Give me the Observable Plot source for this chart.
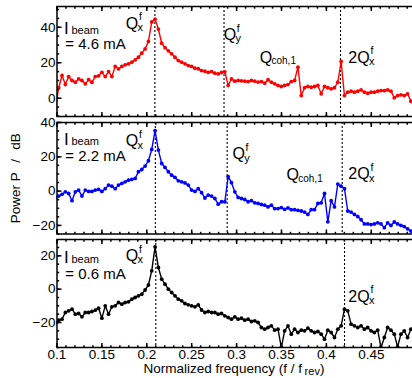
<!DOCTYPE html>
<html><head><meta charset="utf-8">
<script src="https://cdn.jsdelivr.net/npm/d3@7"></script>
<script src="https://cdn.jsdelivr.net/npm/@observablehq/plot@0.6"></script>
<style>
html,body{margin:0;padding:0;background:#fff;overflow:hidden;}
#chart{position:relative;width:412px;height:378px;overflow:hidden;font-family:"Liberation Sans",Arial,sans-serif;color:#000;}
#chart svg{position:absolute;left:0;}
#xlabel{position:absolute;left:56px;width:356px;top:361.5px;text-align:center;font-size:13.5px;line-height:14px;white-space:nowrap;}
#xlabel span{font-size:11px;position:relative;top:2.5px;}
</style></head><body><div id="chart"></div><script>
// Normalized frequency grid (f / f_rev)
const freq = [0.0982,0.1019,0.1056,0.1093,0.1130,0.1167,0.1204,0.1241,0.1278,0.1315,0.1352,0.1389,0.1426,0.1463,0.1500,0.1537,0.1574,0.1611,0.1648,0.1685,0.1722,0.1759,0.1796,0.1833,0.1870,0.1907,0.1944,0.1981,0.2018,0.2055,0.2092,0.2129,0.2166,0.2203,0.2240,0.2277,0.2314,0.2351,0.2388,0.2425,0.2462,0.2499,0.2536,0.2573,0.2610,0.2647,0.2684,0.2721,0.2758,0.2795,0.2832,0.2869,0.2906,0.2943,0.2980,0.3017,0.3054,0.3091,0.3128,0.3165,0.3202,0.3239,0.3276,0.3313,0.3350,0.3387,0.3424,0.3461,0.3498,0.3535,0.3572,0.3609,0.3646,0.3683,0.3720,0.3757,0.3794,0.3831,0.3868,0.3905,0.3942,0.3979,0.4016,0.4053,0.4090,0.4127,0.4164,0.4201,0.4238,0.4275,0.4312,0.4349,0.4386,0.4423,0.4460,0.4497,0.4534,0.4571,0.4608,0.4645,0.4682,0.4719,0.4756,0.4793,0.4830,0.4867,0.4904,0.4941];
// Power P / dB for each beam current
const power46 = [-6,5.9,12.8,7.7,12.2,10.0,9.0,10.9,10.0,8.1,10.5,9.0,12.2,12.6,14.6,12.2,15.0,12.2,17.9,16.5,17.9,18.8,19.4,20.3,21.6,23.1,25.4,27.8,32.0,43.0,44.5,39.0,31.0,28.5,26.7,25.0,23.1,21.2,20.3,19.4,18.4,17.9,16.9,16.6,15.6,15.2,14.6,15.0,14.1,13.7,14.5,14.9,7.2,10.9,9.6,10.0,9.8,9.6,9.4,10.0,9.6,9.1,9.4,8.5,10.4,9.0,8.1,7.2,6.6,7.2,7.7,9.4,10.0,17.5,1.5,5.9,6.6,6.2,6.6,7.2,2.5,6.6,5.9,5.3,5.9,9.0,20.7,1.5,3.4,4.0,3.4,4.0,4.7,3.4,2.8,3.4,3.4,4.0,4.3,4.3,4.7,4.0,0.2,1.5,1.9,1.5,2.5,-1.7];
const power22 = [-4,-2.9,-1.9,-0.4,-1.4,-5.6,-0.4,0.6,-2.9,0.6,-0.2,-0.2,0.6,1.0,-0.2,1.4,3.5,2.9,1.4,3.5,4.5,5.4,6.4,6.8,7.4,11.3,12.6,14.6,17.7,24.3,35.2,23.9,16.1,13.8,11.3,9.3,8.0,6.0,5.4,4.8,3.5,0.6,-0.2,1.4,-0.9,-4.0,-2.3,-2.9,-4.3,-7.6,-6.2,-6.2,8.4,4.9,-0.4,-3.7,-4.3,-4.9,-6.2,-5.6,-6.8,-7.2,-7.8,-8.2,-9.2,-8.2,-10.2,-10.2,-9.6,-10.6,-9.8,-10.8,-10.8,-11.2,-11.6,-12.2,-13.6,-10.8,-10.8,-7.2,-6.8,-1.4,-17.9,-5.6,-9.2,4.1,2.9,1.4,-11.6,-12.2,-13.6,-14.8,-16.7,-19.1,-19.1,-19.5,-19.1,-18.5,-19.1,-21.3,-18.5,-20.0,-18.0,-19.1,-20.0,-20.7,-22.0,-23.3];
const power06 = [-20.5,-18.6,-18.0,-14.0,-13.0,-12.0,-15.0,-14.6,-16.6,-14.0,-14.0,-13.4,-12.6,-11.4,-17.4,-10.0,-15.0,-10.6,-10.0,-8.0,-9.0,-8.0,-7.6,-6.0,-5.0,-4.0,-3.0,-0.5,2.5,11.0,25.4,13.0,6.0,3.0,0.0,-2.0,-4.0,-6.0,-7.0,-8.6,-9.4,-10.0,-10.6,-9.4,-12.5,-14.0,-13.4,-14.0,-14.0,-15.0,-14.6,-16.0,-17.0,-18.0,-16.6,-18.0,-17.4,-18.6,-18.0,-19.4,-19.0,-20.0,-23.0,-24.0,-23.0,-22.0,-24.6,-24.0,-35.0,-25.0,-22.0,-27.0,-24.0,-26.0,-24.6,-25.0,-23.4,-25.0,-26.0,-25.4,-27.0,-30.0,-24.6,-26.0,-29.0,-24.0,-22.0,-12.0,-13.0,-21.0,-22.0,-23.0,-22.0,-24.0,-23.0,-25.0,-26.0,-24.6,-35.0,-29.0,-23.0,-24.6,-27.0,-34.6,-27.0,-25.0,-29.0,-24.0];
// Tune lines (f / f_rev) per panel
const tunes46 = [0.209, 0.286, 0.4157];
const tunes22 = [0.2095, 0.2895, 0.4176];
const tunes06 = [0.210, 0.4202];
// Annotations: [main, subscript, superscript, f, dB]
const notes46 = [["Q","x","f",0.1765,39.3],["Q","y","f",0.2856,32.9],["Q","coh,1","",0.3257,20.1],["2Q","x","f",0.4244,20.1]];
const notes22 = [["Q","x","f",0.1765,26.2],["Q","y","f",0.2953,18.5],["Q","coh,1","",0.3555,6.2],["2Q","x","f",0.4244,7.0]];
const notes06 = [["Q","x","f",0.1765,17.0],["2Q","x","f",0.4244,-7.4]];
// Beam current labels: [current text, f, dB]
const beam46 = ["= 4.6 mA", 0.1077, 36.3];
const beam22 = ["= 2.2 mA", 0.1077, 26.8];
const beam06 = ["= 0.6 mA", 0.1077, 16.0];
// Axis tick labels
const xTickLabels = ["0.1","0.15","0.2","0.25","0.3","0.35","0.4","0.45"];
const yTicks46 = [0, 20, 40];
const yTicks22 = [-20, 0, 20, 40];
const yTicks06 = [-20, 0, 20];

const W = 416, ML = 56.5, MR = W - ML - 0.4 * 898;
const fmtY = d => d < 0 ? "\u2212" + (-d) : String(d);
const seg = (dx, dy) => ({draw(ctx) { ctx.moveTo(0, 0); ctx.lineTo(dx, dy); }});
const advance = {"Q": 12.4, "2Q": 21.3};

const panels = [
  {top: 6, h: 110, dom: [-10.3, 51.7], yt: yTicks46, p: power46, color: "#ff0000", tunes: tunes46, notes: notes46, beam: beam46, l2: 15.3, last: false, ylab: false},
  {top: 122.3, h: 111.5, dom: [-25, 40], yt: yTicks22, p: power22, color: "#0000ff", tunes: tunes22, notes: notes22, beam: beam22, l2: 16.3, last: false, ylab: true},
  {top: 238.7, h: 108, dom: [-35, 29.8], yt: yTicks06, p: power06, color: "#000000", tunes: tunes06, notes: notes06, beam: beam06, l2: 16.6, last: true, ylab: false}
];

const chart = document.getElementById("chart");
const xMajor = xTickLabels.map(Number).concat([0.5]);
const xMinor = d3.range(10, 50).map(k => k / 100);

for (const P of panels) {
  const data = freq.map((f, i) => ({f, p: P.p[i]}));
  const mt = 8, mb = P.last ? 30 : 8;
  const [y0, y1] = P.dom;
  const yMinor = d3.range(Math.ceil(y0 / 5) * 5, y1 + 0.001, 5);
  const marks = [
    Plot.ruleX(P.tunes, {stroke: "black", strokeWidth: 1.1, strokeDasharray: "2,2"}),
    Plot.line(data, {x: "f", y: "p", stroke: P.color, strokeWidth: 1.4, clip: true}),
    Plot.dot(data, {x: "f", y: "p", fill: P.color, stroke: "none", r: 1.9, clip: true}),
    // inward ticks on four sides
    Plot.dot(xMajor, {x: d => d, y: () => y0, symbol: seg(0, -4.5), stroke: "black", fill: "none"}),
    Plot.dot(xMajor, {x: d => d, y: () => y1, symbol: seg(0, 4.5), stroke: "black", fill: "none"}),
    Plot.dot(xMinor, {x: d => d, y: () => y0, symbol: seg(0, -2.2), stroke: "black", fill: "none"}),
    Plot.dot(xMinor, {x: d => d, y: () => y1, symbol: seg(0, 2.2), stroke: "black", fill: "none"}),
    Plot.dot(P.yt, {x: () => 0.1, y: d => d, symbol: seg(4.5, 0), stroke: "black", fill: "none"}),
    Plot.dot(yMinor, {x: () => 0.1, y: d => d, symbol: seg(2.2, 0), stroke: "black", fill: "none"}),
    Plot.dot(yMinor, {x: () => 0.5, y: d => d, symbol: seg(-2.2, 0), stroke: "black", fill: "none"}),
    Plot.frame({stroke: "black", strokeWidth: 1.5}),
    // beam current label
    Plot.text([P.beam], {x: d => d[1], y: d => d[2], text: () => "I", fontSize: 17, textAnchor: "start", lineAnchor: "bottom", fill: "black"}),
    Plot.text([P.beam], {x: d => d[1], y: d => d[2], text: () => "beam", fontSize: 11, dx: 7.5, textAnchor: "start", lineAnchor: "bottom", fill: "black"}),
    Plot.text([P.beam], {x: d => d[1], y: d => d[2], text: d => d[0], fontSize: 15, dx: 1.4, dy: P.l2, textAnchor: "start", lineAnchor: "bottom", fill: "black"})
  ];
  for (const n of P.notes) {
    const a = advance[n[0]];
    marks.push(Plot.text([n], {x: d => d[3], y: d => d[4], text: d => d[0], fontSize: 16, textAnchor: "start", lineAnchor: "bottom", fill: "black"}));
    marks.push(Plot.text([n], {x: d => d[3], y: d => d[4], text: d => d[1], fontSize: n[1].length > 1 ? 10 : 11, dx: a - 0.6, dy: n[1].length > 1 ? 1.3 : 2.5, textAnchor: "start", lineAnchor: "bottom", fill: "black"}));
    if (n[2]) marks.push(Plot.text([n], {x: d => d[3], y: d => d[4], text: d => d[2], fontSize: 10.5, dx: a + 0.8, dy: -8.2, textAnchor: "start", lineAnchor: "bottom", fill: "black"}));
  }
  if (P.ylab) marks.push(Plot.text(["Power P\u2002\u2009/\u2002\u2009dB"], {frameAnchor: "left", dx: -41.5, rotate: -90, fontSize: 13.5, textAnchor: "middle", fill: "black"}));
  const svg = Plot.plot({
    width: W, height: P.h + mt + mb,
    marginLeft: ML, marginRight: MR, marginTop: mt, marginBottom: mb,
    x: {domain: [0.1, 0.5], axis: P.last ? "bottom" : null, ticks: xTickLabels.map(Number), tickFormat: d => xTickLabels[xTickLabels.map(Number).indexOf(d)] ?? String(d), tickSize: 0, tickPadding: 1.5, label: null},
    y: {domain: P.dom, ticks: P.yt, tickSize: 0, tickPadding: 1.5, tickFormat: fmtY, label: null},
    style: {background: "none", maxWidth: "none", overflow: "visible", fontFamily: "'Liberation Sans', Arial, sans-serif", fontSize: "13.5px", color: "black"},
    marks
  });
  svg.style.top = (P.top - mt) + "px";
  chart.appendChild(svg);
}
const xl = document.createElement("div");
xl.id = "xlabel";
xl.innerHTML = "Normalized frequency (f / f\u2009<span>rev</span>)";
chart.appendChild(xl);
</script></body></html>
